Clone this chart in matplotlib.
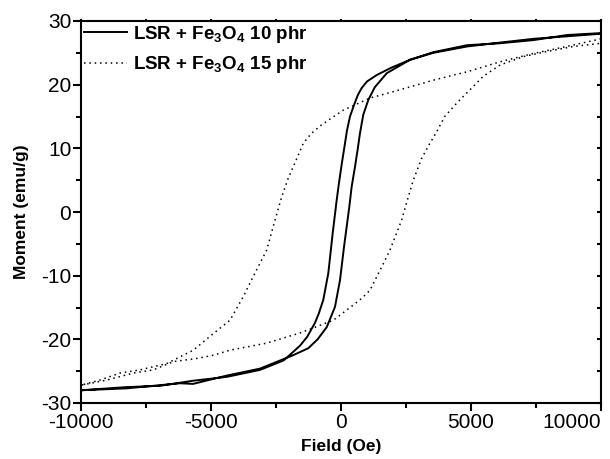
import matplotlib
matplotlib.use("Agg")
import matplotlib.pyplot as plt
from matplotlib.ticker import MultipleLocator, FixedLocator

plt.rcParams['font.family'] = ['Liberation Sans', 'DejaVu Sans']
plt.rcParams['mathtext.fontset'] = 'custom'
plt.rcParams['mathtext.rm'] = 'Liberation Sans'
plt.rcParams['mathtext.bf'] = 'Liberation Sans:bold'

# 10 phr, descending branch (from +H to -H)
h10_down = [10000, 8700, 7400, 6100, 4850, 3550, 2650, 1900, 1370, 1000, 800, 650, 500,
            346, 230, 154, 27, -80, -165, -319, -488, -681, -850, -1000, -1300, -1577,
            -2200, -3115, -4400, -5690, -6960, -8240, -10000]
m10_down = [28.1, 27.8, 27.0, 26.5, 26.2, 25.1, 23.9, 22.6, 21.5, 20.5, 19.5, 18.4, 16.8,
            15.0, 12.8, 10.8, 7.5, 4.5, 1.9, -3.3, -9.6, -13.8, -15.9, -17.4, -19.6, -21.0,
            -23.3, -24.8, -25.9, -26.5, -27.3, -27.5, -28.0]
# 10 phr, ascending branch (from -H to +H)
h10_up = [-10000, -8240, -6960, -6190, -5690, -4400, -3115, -1846, -1258, -900, -550,
          -231, -38, 115, 319, 411, 538, 640, 731, 858, 1050, 1300, 1760, 2650, 3550,
          4850, 6100, 7400, 8700, 10000]
m10_up = [-28.0, -27.7, -27.2, -26.9, -27.0, -25.7, -24.6, -22.5, -21.4, -20.0, -18.1,
          -14.9, -10.7, -5.5, 0.8, 4.0, 7.1, 9.8, 12.4, 15.3, 17.6, 19.6, 21.8, 23.9,
          25.0, 26.0, 26.6, 27.2, 27.6, 28.0]

# 15 phr, descending branch
h15_down = [10000, 8680, 7400, 6120, 4830, 4320, 3550, 2910, 2010, 1115, 90, -423, -808,
            -1150, -1450, -1700, -2030, -2280, -2540, -2860, -3310, -3760, -4270, -4910,
            -5680, -6700, -7730, -8500, -9270, -10000]
m15_down = [27.2, 26.0, 24.9, 23.6, 22.0, 21.5, 20.7, 19.95, 18.9, 17.9, 16.0, 14.6, 13.5,
            12.3, 10.8, 8.4, 5.3, 2.4, -1.3, -6.0, -9.6, -13.3, -17.0, -19.1, -21.7,
            -23.8, -24.8, -25.3, -26.4, -27.2]
# 15 phr, ascending branch
h15_up = [-10000, -9010, -7990, -7220, -6450, -5550, -4910, -4270, -2860, -1577, -935,
          -296, 220, 730, 1115, 1370, 1630, 1880, 2140, 2330, 2590, 2780, 3100, 3420,
          3680, 3990, 4450, 4960, 5470, 6120, 7010, 7910, 8940, 10000]
m15_up = [-27.2, -26.4, -25.3, -24.8, -23.5, -23.0, -22.5, -21.7, -20.6, -19.0, -18.0,
          -17.0, -15.4, -13.8, -12.3, -10.2, -8.1, -6.0, -3.3, -1.3, 2.4, 5.0, 8.4, 10.8,
          12.6, 15.0, 17.1, 19.2, 21.3, 23.1, 24.4, 25.2, 26.0, 26.5]

labels = [r'LSR + Fe$_\mathbf{3}$O$_\mathbf{4}$ 10 phr',
          r'LSR + Fe$_\mathbf{3}$O$_\mathbf{4}$ 15 phr']
xticks = [-10000, -5000, 0, 5000, 10000]
yticks = [-30, -20, -10, 0, 10, 20, 30]

fig = plt.figure(figsize=(6.10, 4.59), dpi=100)
ax = fig.add_axes([81/610, 1-403/459, 520/610, 382/459])

l1, = ax.plot(h10_down + h10_up, m10_down + m10_up, color='black', lw=1.4, label=labels[0])
l2, = ax.plot(h15_down + h15_up, m15_down + m15_up, color='black', lw=1.1,
              linestyle=(0, (1, 2.5)), label=labels[1])

ax.set_xlim(-10000, 10000)
ax.set_ylim(-30, 30)
ax.xaxis.set_major_locator(FixedLocator(xticks))
ax.yaxis.set_major_locator(FixedLocator(yticks))
ax.xaxis.set_minor_locator(MultipleLocator(2500))
ax.yaxis.set_minor_locator(MultipleLocator(5))
ax.set_xticklabels([str(v) for v in xticks])
ax.set_yticklabels([str(v) for v in yticks])

for s in ax.spines.values():
    s.set_linewidth(1.5)
ax.tick_params(axis='both', which='major', direction='out', length=6, width=1.5,
               labelsize=15, pad=1)
ax.tick_params(axis='both', which='minor', direction='out', length=3.5, width=1.5)
ax.tick_params(axis='y', which='both', right=True, labelright=False)
ax.tick_params(axis='x', which='both', top=True, labeltop=False)

# right ticks inward, top ticks small
for t in ax.yaxis.get_major_ticks() + ax.yaxis.get_minor_ticks():
    t.tick2line.set_marker(matplotlib.markers.TICKLEFT)
    t.tick2line.set_markersize(3)
for t in ax.xaxis.get_major_ticks() + ax.xaxis.get_minor_ticks():
    t.tick2line.set_markersize(1.5)

xl = ax.get_xticklabels()
xl[-1].set_horizontalalignment('right')
xl[-1].set_x(10000)

ax.set_xlabel('Field (Oe)', fontsize=12.5, fontweight='bold', labelpad=5)
ax.set_ylabel('Moment (emu/g)', fontsize=12.5, fontweight='bold', labelpad=9)

leg = ax.legend(handles=[l1, l2], loc='upper left', frameon=False,
                prop={'weight': 'bold', 'size': 13.5}, handlelength=2.3,
                handletextpad=0.35, labelspacing=0.5, borderaxespad=0.05,
                borderpad=0.1)

fig.savefig('out.png', dpi=100)
